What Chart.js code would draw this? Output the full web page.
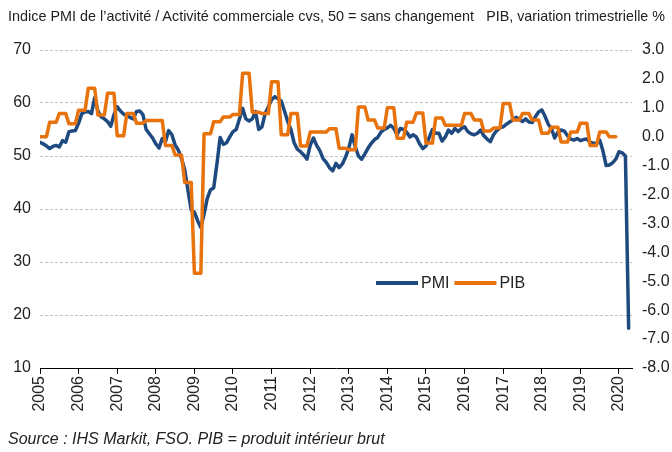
<!DOCTYPE html>
<html><head><meta charset="utf-8">
<script src="https://cdn.jsdelivr.net/npm/chart.js@4.4.0/dist/chart.umd.min.js"></script>
<style>
html,body{margin:0;padding:0;background:#fff;}
#wrap{position:relative;width:672px;height:452px;overflow:hidden;}
canvas{position:absolute;left:0;top:0;}
.t{position:absolute;font-family:"Liberation Sans",Arial,sans-serif;color:#222;white-space:nowrap;}
</style></head><body>
<div id="wrap">
<canvas id="c" width="672" height="452"></canvas>
<div class="t" style="left:8px;top:8px;font-size:14.4px;">Indice PMI de l’activité / Activité commerciale cvs, 50 = sans changement</div>
<div class="t" style="right:7px;top:8px;font-size:14.3px;">PIB, variation trimestrielle %</div>
<div class="t" style="left:8px;top:430px;font-size:16px;font-style:italic;">Source : IHS Markit, FSO. PIB = produit intérieur brut</div>
</div>
<script>
const START_YEAR = 2005;
const seriesNames = ["PMI", "PIB"];
// PMI, monthly from Jan 2005
const pmi = [
  52.6,52.3,51.9,51.4,51.8,52.0,51.7,52.9,52.6,54.6,54.7,54.8,
  56.2,58.0,58.3,58.4,58.0,61.0,58.5,57.4,57.0,56.5,55.6,57.8,
  59.3,58.5,57.9,57.6,57.3,57.0,58.4,58.5,57.8,55.0,54.2,53.4,
  52.3,51.5,53.3,52.7,54.8,54.0,52.1,51.1,49.5,47.4,43.5,39.8,
  39.4,37.8,36.5,39.0,42.0,43.6,44.0,48.5,53.5,52.2,52.5,53.6,
  54.6,55.0,57.0,59.0,57.0,56.6,57.0,58.4,55.0,55.5,58.0,59.3,
  60.6,61.2,60.8,60.4,58.5,56.5,55.0,52.5,51.3,50.8,50.2,49.4,
  52.0,53.4,52.0,51.0,49.5,48.8,47.8,47.2,48.6,47.8,48.5,49.8,
  51.5,54.0,51.8,50.0,49.4,50.4,51.5,52.4,53.1,53.5,54.5,55.0,
  55.3,55.8,55.2,54.0,55.2,55.0,54.5,53.6,54.0,53.6,52.3,51.4,
  51.9,53.5,55.0,54.3,54.3,52.8,53.6,54.9,54.3,55.2,54.6,55.2,
  55.5,54.6,54.2,54.0,54.3,54.9,53.8,53.2,52.7,54.0,54.8,55.3,
  55.5,56.0,56.4,56.8,57.3,56.9,56.5,57.0,56.4,56.3,57.4,58.3,
  58.7,57.5,56.0,55.2,53.4,54.5,54.9,54.7,53.8,53.2,53.0,53.3,
  52.9,53.1,53.2,52.6,52.4,52.4,53.0,51.0,48.2,48.3,48.7,49.4,
  50.8,50.6,50.0,17.5
];
// PIB, quarterly % change from Q1 2005
const pibQuarterly = [
  0.0, 0.5, 0.8, 0.45,
  0.92, 1.68, 0.75, 1.5,
  0.03, 0.8, 0.47, 0.56,
  0.56, -0.3, -0.63, -1.58,
  -4.72, 0.1, 0.52, 0.68,
  0.77, 2.2, 0.85, 0.8,
  1.9, 0.07, 0.8, -0.32,
  0.16, 0.16, 0.28, -0.4,
  -0.45, 1.03, 0.58, 0.3,
  1.0, -0.05, 0.5, 0.82,
  -0.22, 0.65, 0.4, 0.4,
  0.8, 0.58, 0.2, 0.3,
  1.15, 0.58, 0.8, 0.58,
  0.12, 0.33, -0.18, 0.16,
  0.47, -0.3, 0.16, 0.0
];
const yearTicks = [2005,2006,2007,2008,2009,2010,2011,2012,2013,2014,2015,2016,2017,2018,2019,2020];
const leftTicks = [10,20,30,40,50,60,70];
const rightTicks = [-8,-7,-6,-5,-4,-3,-2,-1,0,1,2,3];

const FONT = '"Liberation Sans", Arial, sans-serif';
const BLUE = '#1f4a80';
const ORANGE = '#e8720c';

const pmiPoints = pmi.map((v, i) => ({x: START_YEAR + i / 12, y: v}));
const pibPoints = [];
pibQuarterly.forEach((v, q) => { for (let m = 0; m < 3; m++) pibPoints.push({x: START_YEAR + (q * 3 + m) / 12, y: v}); });

const inlineLegend = {
  id: 'inlineLegend',
  afterDatasetsDraw(chart) {
    const ctx = chart.ctx;
    ctx.save();
    ctx.font = '16px ' + FONT;
    ctx.textBaseline = 'middle';
    let x = 376; const y = 283;
    chart.data.datasets.forEach(ds => {
      ctx.strokeStyle = ds.borderColor; ctx.lineWidth = 4; ctx.lineCap = 'butt';
      ctx.beginPath(); ctx.moveTo(x, y); ctx.lineTo(x + 42, y); ctx.stroke();
      x += 45;
      ctx.fillStyle = '#222';
      ctx.fillText(ds.label, x, y + 1);
      x += ctx.measureText(ds.label).width + 5;
    });
    ctx.restore();
  }
};

new Chart(document.getElementById('c'), {
  type: 'line',
  data: {
    datasets: [
      {label: seriesNames[0], data: pmiPoints, yAxisID: 'y', borderColor: BLUE, borderWidth: 3.5, order: 1},
      {label: seriesNames[1], data: pibPoints, yAxisID: 'y1', borderColor: ORANGE, borderWidth: 3.5, order: 0}
    ]
  },
  options: {
    responsive: false, animation: false, devicePixelRatio: 1,
    layout: {padding: {left: 0, right: 0, top: 50, bottom: 0}},
    plugins: {legend: {display: false}, tooltip: {enabled: false}},
    elements: {point: {radius: 0}, line: {tension: 0, borderJoinStyle: 'round', borderCapStyle: 'round'}},
    scales: {
      x: {
        type: 'linear', min: 2005, max: 2020.337,
        afterBuildTicks: s => { s.ticks = yearTicks.map(v => ({value: v})); },
        afterFit: s => { s.height = 84; },
        ticks: {minRotation: 90, maxRotation: 90, autoSkip: false, padding: 2, color: '#222',
                font: {family: FONT, size: 16}, callback: v => String(v)},
        grid: {drawOnChartArea: false, drawTicks: true, tickLength: 6, color: '#000', lineWidth: 1},
        border: {display: true, color: '#000', width: 1}
      },
      y: {
        position: 'left', min: 10, max: 70,
        afterBuildTicks: s => { s.ticks = leftTicks.map(v => ({value: v})); },
        afterFit: s => { s.width = 40; },
        ticks: {padding: 9, color: '#222', font: {family: FONT, size: 16}},
        grid: {drawTicks: false, lineWidth: 1, color: c => (c.tick && c.tick.value === 10) ? 'rgba(0,0,0,0)' : '#c4c4c4'},
        border: {display: false, dash: [3, 2]}
      },
      y1: {
        position: 'right', min: -8, max: 3,
        afterBuildTicks: s => { s.ticks = rightTicks.map(v => ({value: v})); },
        afterFit: s => { s.width = 40; },
        ticks: {padding: 10, color: '#222', font: {family: FONT, size: 16}, callback: v => v.toFixed(1)},
        grid: {display: false, drawTicks: false},
        border: {display: false}
      }
    }
  },
  plugins: [inlineLegend]
});
</script>
</body></html>
